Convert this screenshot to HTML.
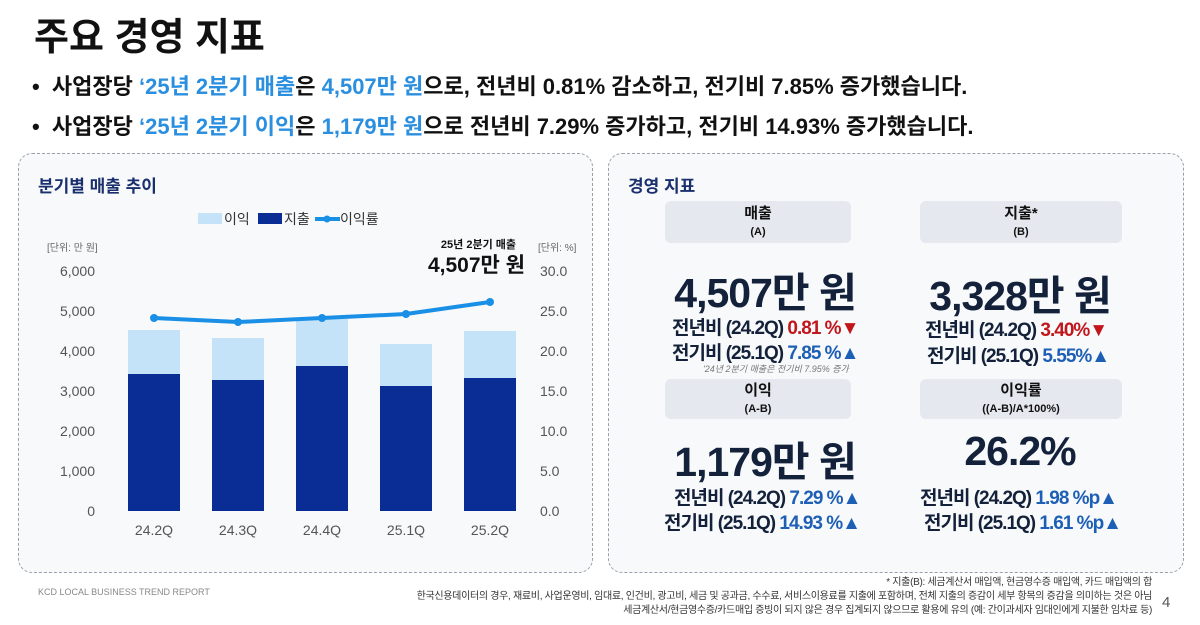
<!DOCTYPE html>
<html><head><meta charset="utf-8"><style>
*{margin:0;padding:0;box-sizing:border-box}
body{width:1200px;height:625px;background:#fff;font-family:"Liberation Sans","Noto Sans CJK KR",sans-serif;position:relative;overflow:hidden;color:#111}
.a{position:absolute;white-space:nowrap}
.b{color:#2b8fe0}
.panel{position:absolute;border:1.5px dashed #9aa0a8;border-radius:14px;background:#f8f9fb}
.box{position:absolute;background:#e5e8ee;border-radius:6px;text-align:center;font-weight:bold}
.big{position:absolute;font-weight:bold;font-size:41px;color:#13213a;text-align:center;letter-spacing:-1px}
.ln{position:absolute;font-weight:bold;font-size:19px;color:#13213a;letter-spacing:-1px}
.r{color:#c0161c}.u{color:#1d5fb5}
</style></head><body>
<div class="a" style="left:34px;top:6px;font-size:38px;font-weight:bold">주요 경영 지표</div>
<div class="a" style="left:32px;top:69px;font-size:22px;font-weight:bold">•&nbsp; 사업장당 <span class="b">‘25년 2분기 매출</span>은 <span class="b">4,507만 원</span>으로, 전년비 0.81% 감소하고, 전기비 7.85% 증가했습니다.</div>
<div class="a" style="left:32px;top:109px;font-size:22px;font-weight:bold">•&nbsp; 사업장당 <span class="b">‘25년 2분기 이익</span>은 <span class="b">1,179만 원</span>으로 전년비 7.29% 증가하고, 전기비 14.93% 증가했습니다.</div>

<div class="panel" style="left:18px;top:153px;width:575px;height:420px"></div>
<div class="panel" style="left:608px;top:153px;width:576px;height:420px"></div>
<div class="a" style="left:38px;top:172px;font-size:17px;font-weight:bold;color:#1a2f6e">분기별 매출 추이</div>
<div class="a" style="left:628px;top:172px;font-size:17px;font-weight:bold;color:#1a2f6e">경영 지표</div>

<svg class="a" style="left:0;top:0" width="600" height="575">
<g font-family="Liberation Sans,Noto Sans CJK KR,sans-serif">
<rect x="198" y="213" width="24" height="11" fill="#c5e3f8"/><text x="224" y="224" font-size="14" fill="#333">이익</text>
<rect x="258" y="213" width="24" height="11" fill="#0a2d95"/><text x="284" y="224" font-size="14" fill="#333">지출</text>
<line x1="315" y1="219" x2="340" y2="219" stroke="#1a8fe6" stroke-width="4"/><circle cx="327" cy="219" r="3.5" fill="#1a8fe6"/><text x="340" y="224" font-size="14" fill="#333">이익률</text>
<text x="47" y="251" font-size="10" fill="#666">[단위: 만 원]</text>
<text x="538" y="251" font-size="10" fill="#666">[단위: %]</text>
<text x="516" y="248" font-size="11" font-weight="bold" text-anchor="end" fill="#111">25년 2분기 매출</text>
<text x="525" y="272" font-size="21" font-weight="bold" text-anchor="end" fill="#111">4,507만 원</text>
<g font-size="14" fill="#555" text-anchor="end">
<text x="95" y="276">6,000</text><text x="95" y="316">5,000</text><text x="95" y="356">4,000</text><text x="95" y="396">3,000</text><text x="95" y="436">2,000</text><text x="95" y="476">1,000</text><text x="95" y="516">0</text>
</g>
<g font-size="14" fill="#555">
<text x="540" y="276">30.0</text><text x="540" y="316">25.0</text><text x="540" y="356">20.0</text><text x="540" y="396">15.0</text><text x="540" y="436">10.0</text><text x="540" y="476">5.0</text><text x="540" y="516">0.0</text>
</g>
<g fill="#c5e3f8">
<rect x="128" y="330" width="52" height="181"/><rect x="212" y="338" width="52" height="173"/><rect x="296" y="319" width="52" height="192"/><rect x="380" y="344" width="52" height="167"/><rect x="464" y="331" width="52" height="180"/>
</g>
<g fill="#0a2d95">
<rect x="128" y="374" width="52" height="137"/><rect x="212" y="380" width="52" height="131"/><rect x="296" y="366" width="52" height="145"/><rect x="380" y="386" width="52" height="125"/><rect x="464" y="378" width="52" height="133"/>
</g>
<polyline points="154,318 238,322 322,318 406,314 490,302" fill="none" stroke="#1a8fe6" stroke-width="4"/>
<g fill="#1a8fe6"><circle cx="154" cy="318" r="4"/><circle cx="238" cy="322" r="4"/><circle cx="322" cy="318" r="4"/><circle cx="406" cy="314" r="4"/><circle cx="490" cy="302" r="4"/></g>
<g font-size="14" fill="#555" text-anchor="middle">
<text x="154" y="535">24.2Q</text><text x="238" y="535">24.3Q</text><text x="322" y="535">24.4Q</text><text x="406" y="535">25.1Q</text><text x="490" y="535">25.2Q</text>
</g>
</g></svg>

<div class="box" style="left:665px;top:201px;width:186px;height:42px;padding-top:4px;font-size:15px;line-height:17px">매출<br><span style="font-size:11px">(A)</span></div>
<div class="box" style="left:920px;top:201px;width:202px;height:42px;padding-top:4px;font-size:15px;line-height:17px">지출*<br><span style="font-size:11px">(B)</span></div>
<div class="box" style="left:665px;top:379px;width:186px;height:40px;padding-top:3px;font-size:15px;line-height:17px">이익<br><span style="font-size:11px">(A-B)</span></div>
<div class="box" style="left:920px;top:379px;width:202px;height:40px;padding-top:3px;font-size:15px;line-height:17px">이익률<br><span style="font-size:11px">((A-B)/A*100%)</span></div>

<div class="big" style="left:660px;top:259px;width:210px">4,507만 원</div>
<div class="big" style="left:915px;top:262px;width:210px">3,328만 원</div>
<div class="big" style="left:660px;top:428px;width:210px">1,179만 원</div>
<div class="big" style="left:915px;top:428px;width:210px">26.2%</div>

<div class="ln" style="left:672px;top:313px">전년비 (24.2Q) <span class="r">0.81 %▼</span></div>
<div class="ln" style="left:672px;top:338px">전기비 (25.1Q) <span class="u">7.85 %▲</span></div>
<div class="a" style="left:703px;top:362px;font-size:9px;color:#777;font-style:italic">'24년 2분기 매출은 전기비 7.95% 증가</div>
<div class="ln" style="left:925px;top:315px">전년비 (24.2Q) <span class="r">3.40%▼</span></div>
<div class="ln" style="left:927px;top:341px">전기비 (25.1Q) <span class="u">5.55%▲</span></div>
<div class="ln" style="left:674px;top:483px">전년비 (24.2Q) <span class="u">7.29 %▲</span></div>
<div class="ln" style="left:664px;top:508px">전기비 (25.1Q) <span class="u">14.93 %▲</span></div>
<div class="ln" style="left:920px;top:483px">전년비 (24.2Q) <span class="u">1.98 %p▲</span></div>
<div class="ln" style="left:924px;top:508px">전기비 (25.1Q) <span class="u">1.61 %p▲</span></div>

<div class="a" style="left:38px;top:587px;font-size:9px;color:#888">KCD LOCAL BUSINESS TREND REPORT</div>
<div class="a" style="right:48px;top:576px;font-size:10px;color:#333;text-align:right;line-height:14px;letter-spacing:-0.3px">* 지출(B): 세금계산서 매입액, 현금영수증 매입액, 카드 매입액의 합<br>한국신용데이터의 경우, 재료비, 사업운영비, 임대료, 인건비, 광고비, 세금 및 공과금, 수수료, 서비스이용료를 지출에 포함하며,  전체 지출의 증감이 세부 항목의 증감을 의미하는 것은 아님<br>세금계산서/현금영수증/카드매입 증빙이 되지 않은 경우 집계되지 않으므로 활용에 유의 (예: 간이과세자 임대인에게 지불한 임차료 등)</div>
<div class="a" style="left:1162px;top:594px;font-size:15px;color:#555">4</div>
</body></html>
